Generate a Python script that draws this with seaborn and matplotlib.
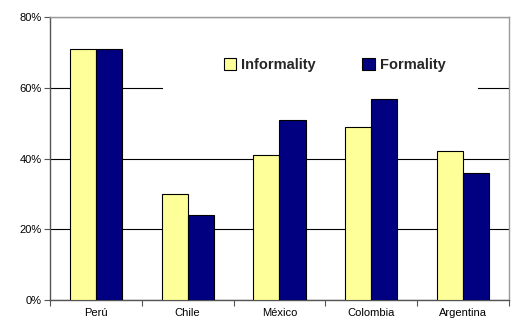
import pandas as pd
import matplotlib.pyplot as plt
import seaborn as sns
from matplotlib.ticker import PercentFormatter, FixedLocator, NullFormatter
from matplotlib.patches import Rectangle

# Data (percent)
countries = ['Perú', 'Chile', 'México', 'Colombia', 'Argentina']
informality = [71, 30, 41, 49, 42]
formality = [71, 24, 51, 56.7, 36]
series_names = ['Informality', 'Formality']
colors = ['#FFFF99', '#000080']

df = pd.DataFrame({
    'country': countries * 2,
    'share': informality + formality,
    'series': [series_names[0]] * len(countries) + [series_names[1]] * len(countries),
})

sns.set_theme(style='white')
plt.rcParams['font.family'] = ['Liberation Sans', 'DejaVu Sans']

fig = plt.figure(figsize=(5.13, 3.24), dpi=100)
ax = fig.add_axes([0.0975, 0.074, 0.8945, 0.8735])

sns.barplot(data=df, x='country', y='share', hue='series', order=countries,
            hue_order=series_names, palette=colors, width=0.57,
            edgecolor='black', linewidth=0.8, saturation=1, ax=ax, zorder=3)

ax.set_xlim(-0.5, len(countries) - 0.5)
ax.set_ylim(0, 80)
ax.set_yticks(range(0, 81, 20))
ax.yaxis.set_major_formatter(PercentFormatter(decimals=0))
ax.set_xlabel('')
ax.set_ylabel('')

# gridlines
ax.yaxis.grid(True, color='black', linewidth=0.8)
ax.set_axisbelow(True)

# tick marks between categories (Excel style)
ax.xaxis.set_minor_locator(FixedLocator([i + 0.5 for i in range(-1, len(countries))]))
ax.xaxis.set_minor_formatter(NullFormatter())
ax.tick_params(axis='x', which='major', length=0, labelsize=8, pad=6, colors='black')
ax.tick_params(axis='x', which='minor', length=4, width=0.8, color='#555555', direction='out', bottom=True)
ax.tick_params(axis='y', which='major', length=4, width=0.8, color='#555555', direction='out', left=True,
               labelsize=8, pad=2, labelcolor='black')

for side in ['left', 'bottom']:
    ax.spines[side].set_color('#555555')
    ax.spines[side].set_linewidth(1.0)
for side in ['top', 'right']:
    ax.spines[side].set_color('#999999')
    ax.spines[side].set_linewidth(1.0)

# white legend area covering the grid
ax.add_patch(Rectangle((0.246, 0.725), 0.686, 0.19, transform=ax.transAxes,
                       facecolor='white', edgecolor='none', zorder=1.5))

handles, labels = ax.get_legend_handles_labels()
ax.legend(handles, labels, loc='center', bbox_to_anchor=(0.62, 0.83), ncol=2,
          frameon=False, prop={'size': 10.5, 'weight': 'bold'},
          handlelength=0.85, handleheight=0.85, handletextpad=0.35,
          columnspacing=3.2)

plt.savefig('out.png', dpi=100)
